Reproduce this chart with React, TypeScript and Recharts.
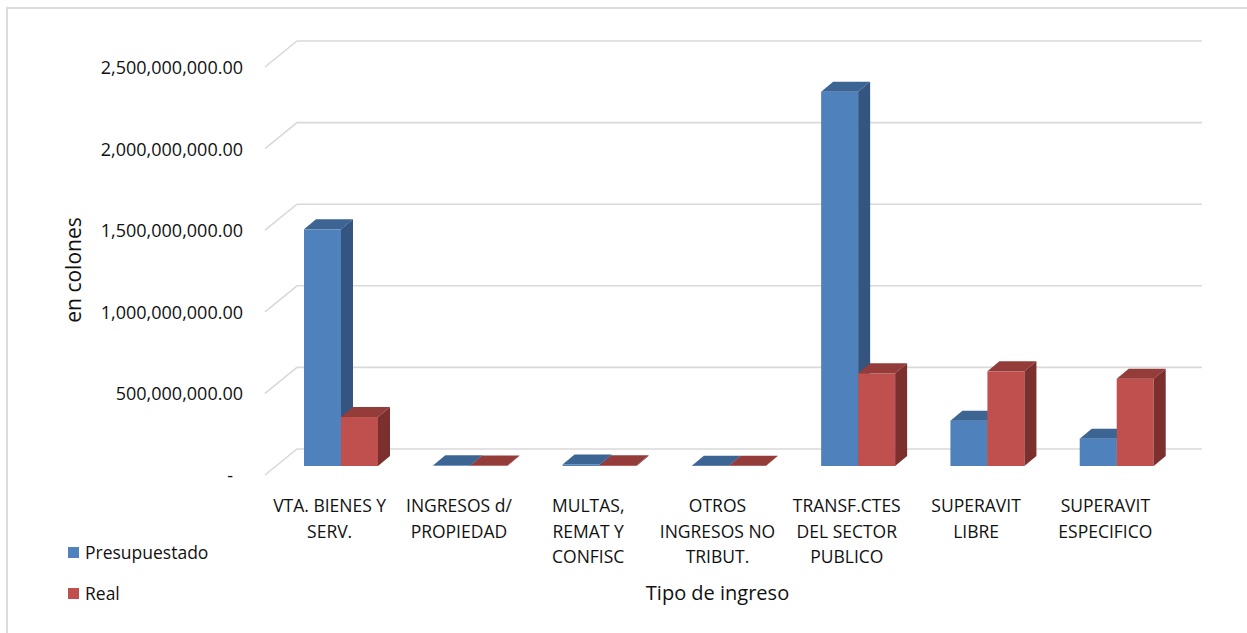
import React from "react";
import { BarChart, Bar, XAxis, YAxis, CartesianGrid, Legend } from "recharts";

const categories = [
  "VTA. BIENES Y\nSERV.",
  "INGRESOS d/\nPROPIEDAD",
  "MULTAS,\nREMAT Y\nCONFISC",
  "OTROS\nINGRESOS NO\nTRIBUT.",
  "TRANSF.CTES\nDEL SECTOR\nPUBLICO",
  "SUPERAVIT\nLIBRE",
  "SUPERAVIT\nESPECIFICO",
];
const presupuestado = [1450000000, 4000000, 9000000, 1500000, 2293000000, 278000000, 167000000];
const real = [300000000, 3000000, 5000000, 1000000, 568000000, 580000000, 535000000];
const yTicks = [0, 500000000, 1000000000, 1500000000, 2000000000, 2500000000];

const data = categories.map((name, i) => ({
  name,
  presupuestado: presupuestado[i],
  real: real[i],
}));

const FONT = "'Open Sans', 'Noto Sans', sans-serif";
const TEXT = "#111";
const GRID = "#D9D9D9";

// oblique depth: back wall / front edge offsets relative to the bars' plane
const BACK_DX = 21;
const BACK_DY = -17;
const FRONT_DX = -11;
const FRONT_DY = 9;
// depth of a single bar
const BAR_DX = 12;
const BAR_DY = -10;

const fmt = (v: number) =>
  v.toLocaleString("en-US", { minimumFractionDigits: 2, maximumFractionDigits: 2 });

const make3DBar = (front: string, top: string, side: string) => (props: any) => {
  const { x, y, width, height } = props;
  if (x == null || y == null) return <g />;
  const h = Math.max(height, 0);
  return (
    <g>
      <rect x={x} y={y} width={width} height={h} fill={front} />
      <polygon
        points={`${x},${y} ${x + BAR_DX},${y + BAR_DY} ${x + width + BAR_DX},${y + BAR_DY} ${x + width},${y}`}
        fill={top}
      />
      <polygon
        points={`${x + width},${y} ${x + width + BAR_DX},${y + BAR_DY} ${x + width + BAR_DX},${y + h + BAR_DY} ${x + width},${y + h}`}
        fill={side}
      />
    </g>
  );
};

const blueBar = make3DBar("#4F81BD", "#3D6593", "#34557F");
const redBar = make3DBar("#C0504D", "#943C3A", "#7C302E");

const gridLine = (p: any) => {
  const { x1, x2, y1 } = p;
  return (
    <polyline
      key={p.key ?? `g-${y1}`}
      points={`${x1 + FRONT_DX},${y1 + FRONT_DY} ${x1 + BACK_DX},${y1 + BACK_DY} ${x2 + BACK_DX},${y1 + BACK_DY}`}
      fill="none"
      stroke={GRID}
      strokeWidth={1.6}
    />
  );
};

const YTick = (p: any) => {
  const { x, y, payload } = p;
  const zero = payload.value === 0;
  return (
    <text
      x={zero ? x - 43 : x - 33}
      y={y + FRONT_DY}
      textAnchor="end"
      dominantBaseline="central"
      fontFamily={FONT}
      fontSize={18}
      fill={TEXT}
    >
      {zero ? "-" : fmt(payload.value)}
    </text>
  );
};

const XTick = (p: any) => {
  const { x, y, payload } = p;
  const lines = String(payload.value).split("\n");
  return (
    <text textAnchor="middle" fontFamily={FONT} fontSize={17.5} fill={TEXT}>
      {lines.map((l, i) => (
        <tspan key={i} x={x + FRONT_DX} y={y + 39 + i * 25.5} dominantBaseline="central">
          {l}
        </tspan>
      ))}
    </text>
  );
};

const LegendBox = (props: any) => {
  const items = props.payload || [];
  return (
    <div style={{ fontFamily: FONT, fontSize: 17.5, color: TEXT }}>
      {items.map((it: any, i: number) => (
        <div
          key={i}
          style={{ display: "flex", alignItems: "center", height: 18, marginBottom: 23 }}
        >
          <span style={{ width: 11, height: 11, background: it.color, marginRight: 6 }} />
          <span style={{ lineHeight: "18px" }}>{it.value}</span>
        </div>
      ))}
    </div>
  );
};

export default function App() {
  return (
    <div
      style={{
        position: "absolute",
        left: 0,
        top: 0,
        width: 1247,
        height: 633,
        overflow: "hidden",
        background: "#fff",
      }}
    >
      <div
        style={{
          position: "absolute",
          left: 6,
          top: 7,
          width: 1400,
          height: 800,
          border: "2px solid #DCDCDC",
        }}
      />
      <div style={{ position: "absolute", left: 0, top: 0 }}>
        <BarChart
          width={1247}
          height={633}
          data={data}
          margin={{ top: 58, right: 66, bottom: 0, left: 0 }}
          barGap={0}
        >
          <CartesianGrid vertical={false} horizontal={gridLine} />
          <XAxis
            dataKey="name"
            height={167}
            axisLine={false}
            tickLine={false}
            tickSize={0}
            tickMargin={0}
            interval={0}
            tick={<XTick />}
            label={{
              content: (lp: any) => {
                const vb = lp.viewBox || {};
                return (
                  <text
                    x={vb.x + vb.width / 2 + FRONT_DX}
                    y={592}
                    textAnchor="middle"
                    dominantBaseline="central"
                    fontFamily={FONT}
                    fontSize={20}
                    fill={TEXT}
                  >
                    Tipo de ingreso
                  </text>
                );
              },
            }}
          />
          <YAxis
            type="number"
            domain={[0, 2500000000]}
            ticks={yTicks}
            width={276}
            axisLine={false}
            tickLine={false}
            tickSize={0}
            tickMargin={0}
            tick={<YTick />}
            label={{
              content: (lp: any) => {
                const vb = lp.viewBox || {};
                const cx = (vb.x || 0) + 73;
                const cy = 270;
                return (
                  <text
                    x={cx}
                    y={cy}
                    transform={`rotate(-90 ${cx} ${cy})`}
                    textAnchor="middle"
                    dominantBaseline="central"
                    fontFamily={FONT}
                    fontSize={21}
                    fill={TEXT}
                  >
                    en colones
                  </text>
                );
              },
            }}
          />
          <Legend
            layout="vertical"
            align="center"
            verticalAlign="middle"
            wrapperStyle={{ left: 68, top: 543, width: 200, margin: 0 }}
            content={<LegendBox />}
          />
          <Bar
            dataKey="presupuestado"
            name="Presupuestado"
            fill="#4F81BD"
            barSize={37}
            shape={blueBar}
            isAnimationActive={false}
          />
          <Bar
            dataKey="real"
            name="Real"
            fill="#C0504D"
            barSize={37}
            shape={redBar}
            isAnimationActive={false}
          />
        </BarChart>
      </div>
    </div>
  );
}
